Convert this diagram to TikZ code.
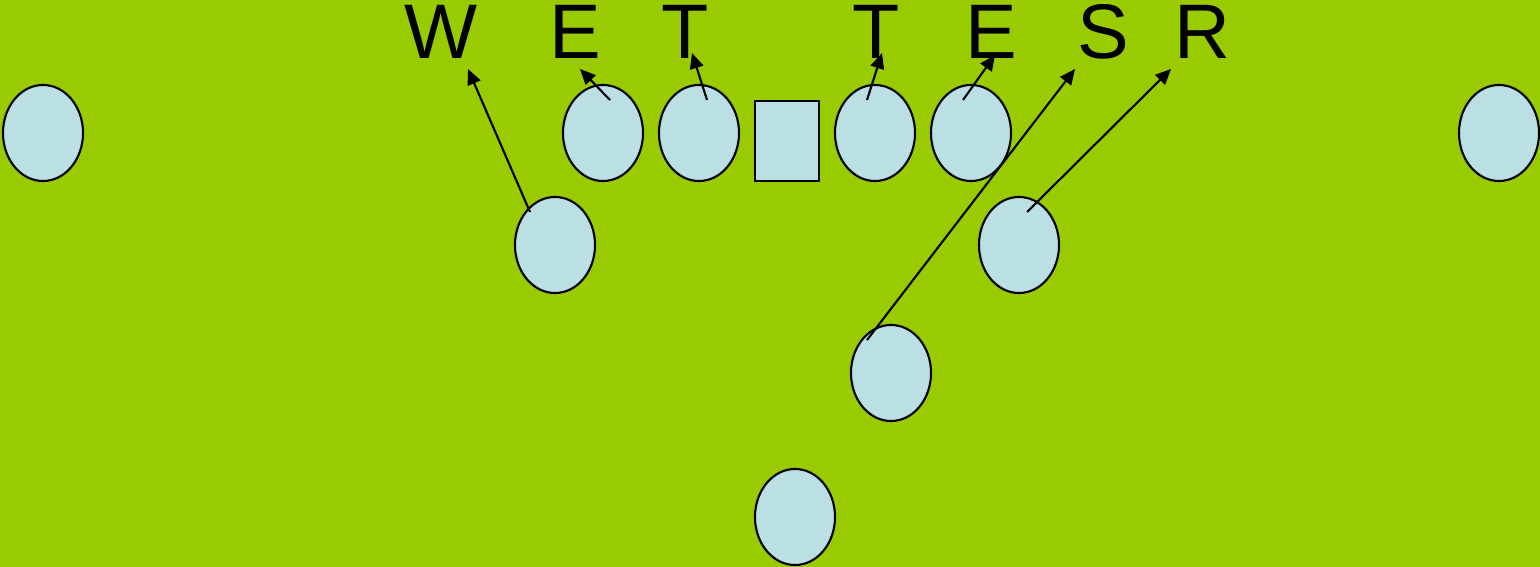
\documentclass[tikz,border=0pt]{standalone}
\usepackage{fontspec}
\setmainfont{Liberation Sans}
\usetikzlibrary{arrows.meta, shapes.geometric}
\definecolor{fieldgreen}{HTML}{99CC00}
\definecolor{playerblue}{HTML}{BBE0E3}
\tikzset{
  player/.style={draw, ellipse, line width=0.6pt, fill=playerblue, minimum width=0.8cm, minimum height=0.96cm, inner sep=0pt},
  snapbox/.style={draw, rectangle, line width=0.6pt, fill=playerblue, minimum width=0.64cm, minimum height=0.8cm, inner sep=0pt},
  gap/.style={anchor=base, font=\fontsize{22}{26}\selectfont},
  run/.style={line width=0.6pt, -{Triangle[length=4.4pt, width=3.9pt]}}
}
\begin{document}
\begin{tikzpicture}[x=0.01cm, y=-0.01cm]
    % Field
    \useasboundingbox (0,0) rectangle (1540,567);
    \fill[fieldgreen] (0,0) rectangle (1540,567);

    % Nodes
    \node[player] (wideL) at (43,133) {};
    \node[player] (endL) at (603,133) {};
    \node[player] (tackL) at (699,133) {};
    \node[snapbox] (ctr) at (787,141) {};
    \node[player] (tackR) at (875,133) {};
    \node[player] (endR) at (971,133) {};
    \node[player] (wideR) at (1499,133) {};
    \node[player] (backL) at (555,245) {};
    \node[player] (backR) at (1019,245) {};
    \node[player] (deep) at (891,373) {};
    \node[player] (safe) at (795,517) {};

    % Text on top
    \node[gap] (gW) at (441,59) {W};
    \node[gap] (gE1) at (575,59) {E};
    \node[gap] (gT1) at (685,59) {T};
    \node[gap] (gT2) at (876,59) {T};
    \node[gap] (gE2) at (991,59) {E};
    \node[gap] (gS) at (1103,59) {S};
    \node[gap] (gR) at (1202,59) {R};

    % Arrow tips
    \coordinate (tipW) at (468,69);
    \coordinate (tipE1) at (580,69);
    \coordinate (tipT1) at (692,53);
    \coordinate (tipT2) at (882,53);
    \coordinate (tipE2) at (995,55);
    \coordinate (tipS) at (1075,69);
    \coordinate (tipR) at (1171,69);

    % Connection
    \draw[run] ([shift={(-25,-33)}]backL.center) -- (tipW);
    \draw[run] ([shift={(7,-33)}]endL.center) -- (tipE1);
    \draw[run] ([shift={(8,-33)}]tackL.center) -- (tipT1);
    \draw[run] ([shift={(-8,-33)}]tackR.center) -- (tipT2);
    \draw[run] ([shift={(-8,-33)}]endR.center) -- (tipE2);
    \draw[run] ([shift={(-24,-33)}]deep.center) -- (tipS);
    \draw[run] ([shift={(8,-33)}]backR.center) -- (tipR);
  \end{tikzpicture}
\end{document}
